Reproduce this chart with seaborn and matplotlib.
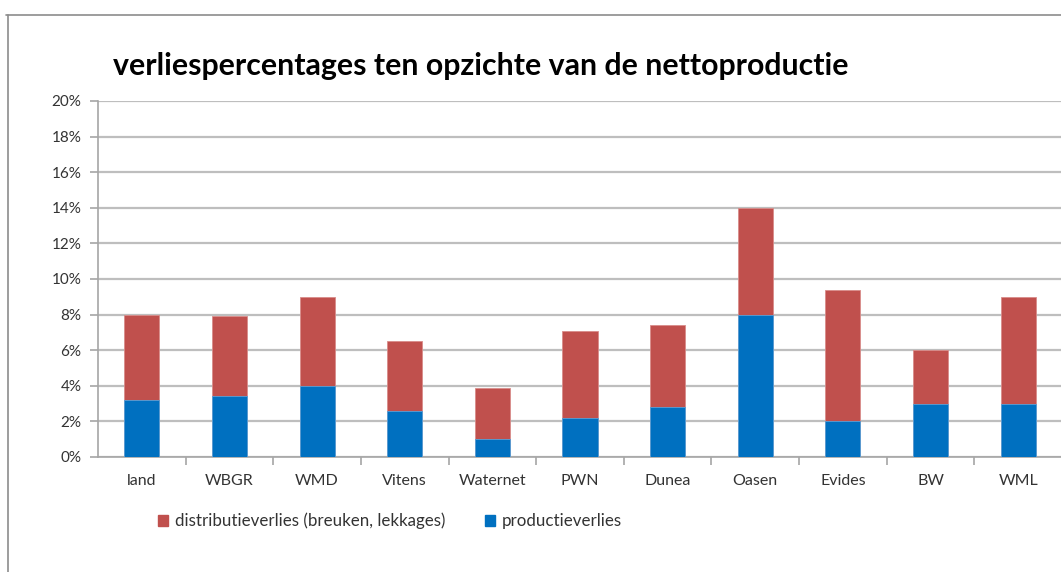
import matplotlib
matplotlib.use("Agg")
import matplotlib.pyplot as plt
import matplotlib.patches as mpatches
import matplotlib.lines as mlines
from matplotlib.ticker import FuncFormatter, MultipleLocator
import seaborn as sns
import pandas as pd

categories = ["land", "WBGR", "WMD", "Vitens", "Waternet", "PWN", "Dunea",
              "Oasen", "Evides", "BW", "WML"]
productieverlies = [3.2, 3.4, 4.0, 2.6, 1.0, 2.2, 2.8, 8.0, 2.0, 3.0, 3.0]
distributieverlies = [4.8, 4.5, 5.0, 3.9, 2.9, 4.9, 4.6, 6.0, 7.4, 3.0, 6.0]
totaal = [p + d for p, d in zip(productieverlies, distributieverlies)]

title = "verliespercentages ten opzichte van de nettoproductie"
label_dist = "distributieverlies (breuken, lekkages)"
label_prod = "productieverlies"

RED = "#C0504D"
BLUE = "#0070C0"
GRID = "#BEBEBE"
TXT = "#333333"

df = pd.DataFrame({"cat": categories, "prod": productieverlies, "tot": totaal})

sns.set_theme(style="white")
plt.rcParams["font.family"] = ["Lato", "DejaVu Sans"]

W, H = 1061, 572
fig = plt.figure(figsize=(W / 100, H / 100), dpi=100)
ax = fig.add_axes([98 / W, 1 - 457 / H, 964 / W, 356 / H])

sns.barplot(data=df, x="cat", y="tot", order=categories, color=RED, width=0.4,
            saturation=1, ax=ax, edgecolor="#D98C8A", linewidth=0.6, zorder=3)
sns.barplot(data=df, x="cat", y="prod", order=categories, color=BLUE, width=0.4,
            saturation=1, ax=ax, edgecolor="#5AA0D8", linewidth=0.6, zorder=4)

ax.set_xlim(-0.5, len(categories) - 0.5)
ax.set_ylim(0, 20)
ax.yaxis.set_major_locator(MultipleLocator(2))
ax.yaxis.set_major_formatter(FuncFormatter(lambda v, _: f"{v:.0f}%"))
ax.set_xlabel("")
ax.set_ylabel("")

ax.yaxis.grid(True, color=GRID, linewidth=1.6, zorder=0)
ax.set_axisbelow(True)
for s in ["top", "right"]:
    ax.spines[s].set_visible(False)
for s in ["left", "bottom"]:
    ax.spines[s].set_color("#A6A6A6")
    ax.spines[s].set_linewidth(1.2)

ax.tick_params(axis="y", which="major", left=True, length=6, width=1.2,
               color="#A6A6A6", labelsize=11, labelcolor=TXT, pad=6)
ax.tick_params(axis="x", which="major", bottom=False, labelsize=11.5,
               labelcolor=TXT, pad=6)
ax.set_xticks(range(len(categories)))
ax.set_xticklabels(categories)
ax.set_xticks([i + 0.5 for i in range(len(categories))], minor=True)
ax.tick_params(axis="x", which="minor", bottom=True, length=6, width=1.2,
               color="#A6A6A6", direction="out")

fig.text(113 / W, 1 - 66 / H, title, fontsize=21.8, fontweight="bold",
         color="black", va="center", ha="left")

# outer chart frame (top and left edges visible)
fig.add_artist(mlines.Line2D([6 / W, 1.0], [1 - 15 / H, 1 - 15 / H],
                             transform=fig.transFigure, color="#8C8C8C", linewidth=1.2))
fig.add_artist(mlines.Line2D([8 / W, 8 / W], [0, 1 - 15 / H],
                             transform=fig.transFigure, color="#8C8C8C", linewidth=1.2))

h1 = mpatches.Patch(color=RED, label=label_dist)
h2 = mpatches.Patch(color=BLUE, label=label_prod)
fig.legend(handles=[h1, h2], loc="center left", bbox_to_anchor=(143 / W, 1 - 521 / H),
           ncol=2, frameon=False, fontsize=12.2, handlelength=0.6, handleheight=0.6,
           handletextpad=0.4, columnspacing=2.3, labelcolor=TXT)

fig.savefig("out.png", dpi=100)
